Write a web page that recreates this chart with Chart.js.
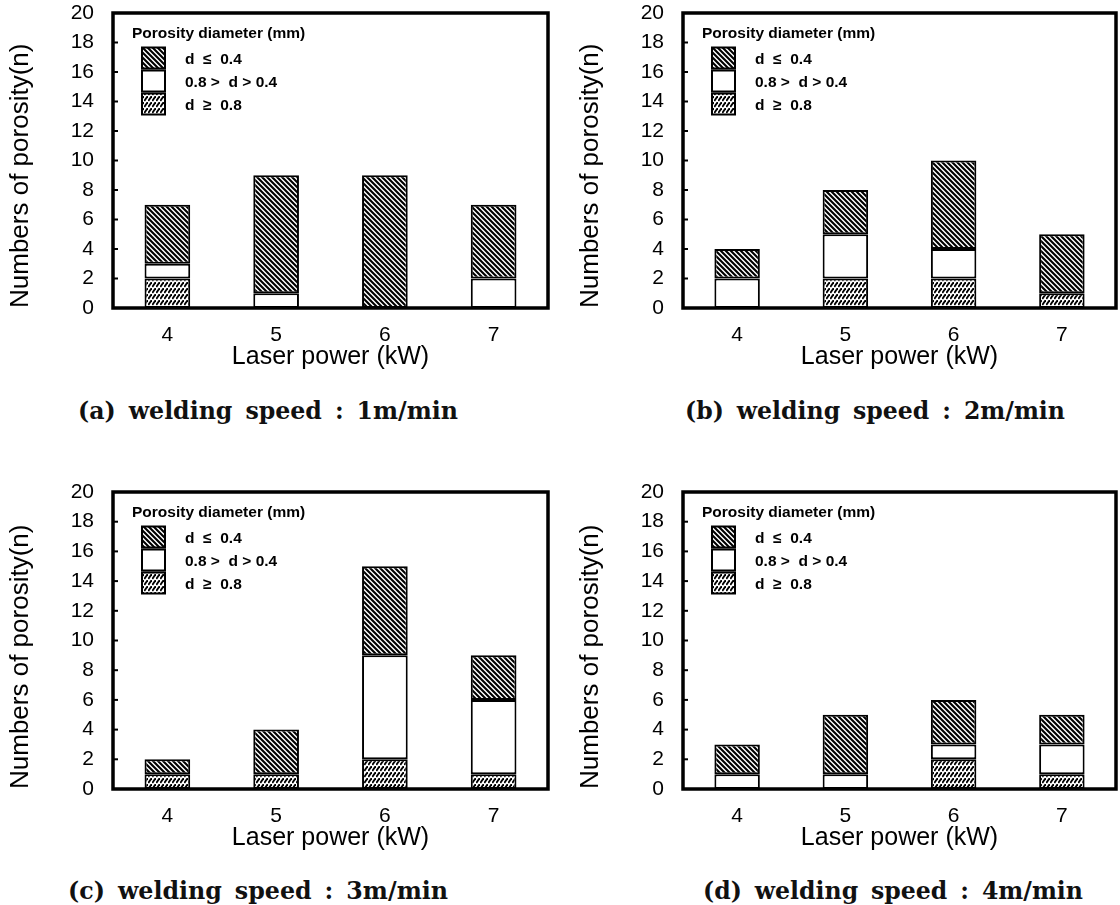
<!DOCTYPE html>
<html><head><meta charset="utf-8">
<script src="https://cdn.jsdelivr.net/npm/chart.js@4.4.0/dist/chart.umd.min.js"></script>
<style>
html,body{margin:0;padding:0;background:#fff;width:1120px;height:905px;overflow:hidden;}
canvas{position:absolute;}
.cap{position:absolute;font-family:"DejaVu Serif","Liberation Serif",serif;font-weight:bold;font-size:25px;white-space:pre;transform-origin:0 50%;color:#111;line-height:1;word-spacing:5px;}
</style></head><body>
<canvas id="ca" width="560" height="372" style="left:0;top:0"></canvas>
<canvas id="cb" width="550" height="372" style="left:570px;top:0"></canvas>
<canvas id="cc" width="560" height="375" style="left:0;top:478px"></canvas>
<canvas id="cd" width="550" height="375" style="left:570px;top:478px"></canvas>
<div class="cap" id="capA" style="left:78px;top:398px"></div>
<div class="cap" id="capB" style="left:685px;top:398px"></div>
<div class="cap" id="capC" style="left:68px;top:878px"></div>
<div class="cap" id="capD" style="left:703px;top:878px"></div>
<script>
// ---- data ----
const categories = ['4', '5', '6', '7'];
const yTitle = 'Numbers of porosity(n)';
const xTitle = 'Laser power (kW)';
const legendTitle = 'Porosity diameter (mm)';
const seriesLabels = ['d  \u2265  0.8', '0.8 >  d > 0.4', 'd  \u2264  0.4']; // stacked bottom -> top
const captions = ['(a) welding speed : 1m/min', '(b) welding speed : 2m/min', '(c) welding speed : 3m/min', '(d) welding speed : 4m/min'];

const a_large = [2, 0, 0, 0];
const a_mid   = [1, 1, 0, 2];
const a_small = [4, 8, 9, 5];

const b_large = [0, 2, 2, 1];
const b_mid   = [2, 3, 2, 0];
const b_small = [2, 3, 6, 4];

const c_large = [1, 1, 2, 1];
const c_mid   = [0, 0, 7, 5];
const c_small = [1, 3, 6, 3];

const d_large = [0, 0, 2, 1];
const d_mid   = [1, 1, 1, 2];
const d_small = [2, 4, 3, 2];

// ---- patterns ----
function hatchSmall() {
  const c = document.createElement('canvas'); c.width = 5; c.height = 5;
  const g = c.getContext('2d');
  g.fillStyle = '#fff'; g.fillRect(0, 0, 5, 5);
  g.strokeStyle = '#000'; g.lineWidth = 2.1;
  g.beginPath();
  g.moveTo(-1, -1); g.lineTo(6, 6);
  g.moveTo(-1, 4); g.lineTo(1, 6);
  g.moveTo(4, -1); g.lineTo(6, 1);
  g.stroke();
  return g.createPattern(c, 'repeat');
}
function hatchLarge() {
  const c = document.createElement('canvas'); c.width = 4; c.height = 6;
  const g = c.getContext('2d');
  g.fillStyle = '#fff'; g.fillRect(0, 0, 4, 6);
  g.strokeStyle = '#000'; g.lineWidth = 1.8;
  g.beginPath();
  g.moveTo(0.3, 5); g.lineTo(3.7, 0);
  g.stroke();
  return g.createPattern(c, 'repeat');
}
const patSmall = hatchSmall();
const patLarge = hatchLarge();

const FONT = '"Liberation Sans", Arial, Helvetica, sans-serif';

const boxPlugin = {
  id: 'box',
  afterDraw(chart) {
    const {ctx, chartArea: ca} = chart;
    const ys = chart.scales.y;
    ctx.save();
    ctx.strokeStyle = '#000';
    ctx.lineWidth = 2;
    for (let v = 2; v < 20; v += 2) {
      const py = ys.getPixelForValue(v);
      ctx.beginPath(); ctx.moveTo(ca.left, py); ctx.lineTo(ca.left + 5, py); ctx.stroke();
    }
    ctx.lineWidth = 3.5;
    ctx.strokeRect(ca.left, ca.top, ca.right - ca.left, ca.bottom - ca.top);
    ctx.restore();
  }
};

const legendPlugin = {
  id: 'innerLegend',
  afterDraw(chart) {
    const {ctx, chartArea: ca} = chart;
    const ds = chart.data.datasets.slice().reverse();
    ctx.save();
    ctx.fillStyle = '#000';
    ctx.font = 'bold 15.5px ' + FONT;
    ctx.textBaseline = 'middle';
    ctx.textAlign = 'left';
    ctx.fillText(legendTitle, ca.left + 19, ca.top + 21);
    ds.forEach((d, i) => {
      const bx = ca.left + 29, by = ca.top + 34.5 + i * 23;
      ctx.fillStyle = d.backgroundColor;
      ctx.fillRect(bx, by, 23, 21);
      ctx.strokeStyle = '#000'; ctx.lineWidth = 2;
      ctx.strokeRect(bx, by, 23, 21);
      ctx.fillStyle = '#000';
      ctx.font = 'bold 15.5px ' + FONT;
      ctx.fillText(d.label, ca.left + 72, by + 12);
    });
    ctx.restore();
  }
};

function buildChart(id, large, mid, small, padRight, padTop) {
  const mk = (label, data, bg) => ({
    label, data, backgroundColor: bg, borderColor: '#000', borderWidth: 2, borderSkipped: false,
    categoryPercentage: 1, barPercentage: 0.42
  });
  return new Chart(document.getElementById(id), {
    type: 'bar',
    data: {
      labels: categories,
      datasets: [
        mk(seriesLabels[0], large, patLarge),
        mk(seriesLabels[1], mid, '#ffffff'),
        mk(seriesLabels[2], small, patSmall)
      ]
    },
    options: {
      responsive: false, animation: false, devicePixelRatio: 1,
      layout: {padding: {left: 5, right: padRight, top: padTop, bottom: 0}},
      plugins: {legend: {display: false}, tooltip: {enabled: false}, title: {display: false}},
      scales: {
        x: {
          stacked: true,
          grid: {display: false}, border: {display: false},
          ticks: {color: '#000', font: {family: FONT, size: 21}, padding: 7},
          title: {display: true, text: xTitle, color: '#000', font: {family: FONT, size: 25}, padding: 0},
          afterFit(s) { s.height = 64; s.paddingLeft = 0; s.paddingRight = 0; }
        },
        y: {
          stacked: true, min: 0, max: 20,
          grid: {display: false}, border: {display: false},
          ticks: {stepSize: 2, color: '#000', font: {family: FONT, size: 21}, padding: 11},
          title: {display: true, text: yTitle, align: 'start', color: '#000', font: {family: FONT, size: 26}, padding: 0},
          afterFit(s) { s.width = 108; s.paddingTop = 0; s.paddingBottom = 0; }
        }
      }
    },
    plugins: [boxPlugin, legendPlugin]
  });
}

buildChart('ca', a_large, a_mid, a_small, 12, 13);
buildChart('cb', b_large, b_mid, b_small, 4, 13);
buildChart('cc', c_large, c_mid, c_small, 12, 14);
buildChart('cd', d_large, d_mid, d_small, 4, 14);

// captions (real text), fitted to the reference width
const capIds = ['capA', 'capB', 'capC', 'capD'];
const capWidth = 380;
capIds.forEach((id, i) => {
  const el = document.getElementById(id);
  el.textContent = captions[i];
  const w = el.getBoundingClientRect().width;
  el.style.transform = 'scaleX(' + (capWidth / w) + ')';
});
</script>
</body></html>
